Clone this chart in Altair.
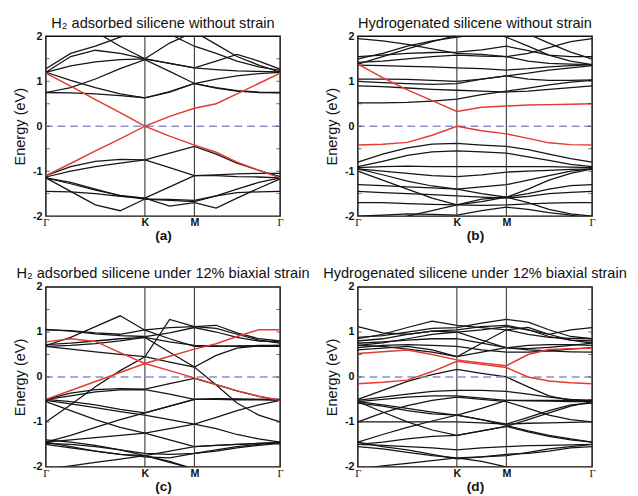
import altair as alt
import pandas as pd

# k-path positions (Γ -> K -> M -> Γ), band energies sampled at these points
K_POINTS = [0.0, 0.25, 0.5, 0.75, 1.0, 1.25, 1.5, 1.72, 1.93, 2.15, 2.366]
TICK_POS = [0.0, 1.0, 1.5, 2.366]
TICK_LABELS = ["Γ", "K", "M", "Γ"]
SYM_LINES = [1.0, 1.5]
Y_TICKS = [-2, -1, 0, 1, 2]
MINOR_Y = [-1.5, -1.0, -0.5, 0.0, 0.5, 1.0, 1.5]

TITLES = ["H₂ adsorbed silicene without strain", "Hydrogenated silicene without strain",
          "H₂ adsorbed silicene under 12% biaxial strain", "Hydrogenated silicene under 12% biaxial strain"]
LABELS = ["(a)", "(b)", "(c)", "(d)"]

A_RED = [
    [1.18, 0.89, 0.59, 0.30, 0.00, 0.22, 0.40, 0.50, 0.72, 0.95, 1.18],
    [-1.10, -0.83, -0.55, -0.28, 0.00, -0.22, -0.42, -0.58, -0.80, -0.98, -1.15],
]
A_BLACK = [
    [0.75, 0.74, 0.72, 0.68, 0.63, 0.77, 0.95, 0.85, 0.78, 0.75, 0.74],
    [1.20, 1.02, 0.86, 0.72, 0.63, 0.76, 0.95, 1.05, 1.12, 1.17, 1.20],
    [0.75, 0.86, 1.05, 1.28, 1.48, 1.22, 0.95, 0.86, 0.79, 0.76, 0.75],
    [1.20, 1.34, 1.43, 1.48, 1.50, 1.40, 1.30, 1.26, 1.23, 1.22, 1.21],
    [1.20, 1.55, 1.69, 1.62, 1.50, 1.40, 1.30, 1.45, 1.60, 1.45, 1.27],
    [1.28, 1.62, 1.78, 1.98, 2.20, 2.30, 2.30, 2.30, 2.30, 2.30, 2.30],
    [2.30, 2.30, 2.10, 1.78, 1.50, 1.85, 2.10, 1.82, 1.55, 1.36, 1.20],
    [2.30, 2.30, 2.30, 2.30, 2.30, 2.05, 1.78, 1.62, 1.45, 1.32, 1.24],
    [-1.10, -0.90, -0.78, -0.74, -0.75, -0.92, -1.10, -1.08, -1.06, -1.05, -1.05],
    [-1.13, -1.00, -0.90, -0.82, -0.75, -0.60, -0.45, -0.62, -0.82, -0.98, -1.12],
    [-1.15, -1.28, -1.42, -1.54, -1.60, -1.35, -1.10, -1.10, -1.12, -1.13, -1.15],
    [-1.15, -1.25, -1.40, -1.55, -1.62, -1.65, -1.68, -1.55, -1.40, -1.25, -1.15],
    [-1.45, -1.46, -1.50, -1.56, -1.60, -1.78, -1.70, -1.82, -1.60, -1.38, -1.17],
    [-1.15, -1.45, -1.75, -1.88, -1.62, -1.63, -1.65, -1.55, -1.48, -1.46, -1.45],
]

B_RED = [
    [1.38, 1.08, 0.81, 0.57, 0.33, 0.42, 0.45, 0.47, 0.48, 0.49, 0.50],
    [-0.42, -0.40, -0.36, -0.20, 0.00, -0.10, -0.17, -0.27, -0.37, -0.41, -0.42],
]
B_BLACK = [
    [0.52, 0.52, 0.53, 0.56, 0.60, 0.70, 0.78, 0.85, 0.92, 0.98, 1.02],
    [0.90, 0.88, 0.85, 0.82, 0.80, 0.78, 0.76, 0.78, 0.82, 0.86, 0.90],
    [1.05, 1.05, 1.04, 1.02, 1.00, 1.05, 1.12, 1.05, 1.02, 1.02, 1.03],
    [1.00, 0.97, 0.95, 0.93, 0.95, 1.05, 1.12, 1.18, 1.25, 1.30, 1.35],
    [1.36, 1.35, 1.33, 1.32, 1.30, 1.28, 1.25, 1.28, 1.32, 1.35, 1.37],
    [1.42, 1.45, 1.50, 1.55, 1.58, 1.56, 1.55, 1.45, 1.40, 1.38, 1.37],
    [1.50, 1.62, 1.78, 1.90, 1.98, 2.05, 2.10, 2.05, 1.85, 1.65, 1.50],
    [1.55, 1.58, 1.62, 1.64, 1.65, 1.70, 1.78, 1.68, 1.58, 1.55, 1.55],
    [1.38, 1.55, 1.72, 1.88, 2.02, 2.20, 2.30, 2.30, 2.30, 2.30, 2.30],
    [2.30, 2.30, 2.30, 2.30, 2.30, 2.15, 1.98, 1.78, 1.58, 1.45, 1.37],
    [1.95, 1.90, 1.82, 1.72, 1.62, 1.60, 1.55, 1.62, 1.75, 1.88, 1.95],
    [-0.80, -0.62, -0.48, -0.40, -0.38, -0.42, -0.45, -0.52, -0.62, -0.72, -0.80],
    [-0.90, -0.78, -0.65, -0.57, -0.55, -0.57, -0.60, -0.68, -0.76, -0.85, -0.90],
    [-0.92, -0.90, -0.89, -0.90, -0.90, -0.90, -0.90, -0.90, -0.90, -0.91, -0.92],
    [-0.95, -1.00, -1.05, -1.10, -1.12, -1.08, -1.02, -1.00, -0.98, -0.96, -0.95],
    [-0.95, -1.08, -1.22, -1.33, -1.40, -1.50, -1.58, -1.40, -1.20, -1.05, -0.95],
    [-1.00, -1.20, -1.40, -1.60, -1.75, -1.68, -1.58, -1.50, -1.40, -1.32, -1.30],
    [-1.30, -1.32, -1.35, -1.37, -1.40, -1.35, -1.30, -1.20, -1.10, -1.00, -0.95],
    [-1.45, -1.48, -1.50, -1.52, -1.55, -1.58, -1.60, -1.56, -1.50, -1.47, -1.45],
    [-1.70, -1.70, -1.72, -1.74, -1.75, -1.76, -1.75, -1.73, -1.71, -1.70, -1.70],
    [-2.20, -2.10, -2.00, -1.88, -1.75, -1.62, -1.58, -1.70, -1.85, -1.95, -2.00],
    [-2.00, -1.98, -1.95, -1.96, -1.98, -1.88, -1.80, -1.85, -1.92, -1.98, -2.05],
]

C_RED = [
    [0.78, 0.85, 0.79, 0.54, 0.30, 0.14, -0.02, -0.17, -0.31, -0.43, -0.52],
    [-0.50, -0.30, -0.10, 0.10, 0.30, 0.46, 0.62, 0.74, 0.90, 1.05, 1.05],
]
C_BLACK = [
    [0.70, 0.88, 1.12, 1.36, 1.04, 0.85, 0.68, 0.68, 0.69, 0.70, 0.70],
    [-1.00, -0.62, -0.22, 0.14, 0.45, 1.28, 1.12, 1.15, 0.98, 0.85, 0.80],
    [1.05, 1.03, 0.98, 0.95, 1.05, 1.10, 1.12, 1.08, 0.95, 0.82, 0.75],
    [1.06, 1.02, 0.96, 0.92, 0.90, 0.98, 1.10, 1.00, 0.88, 0.80, 0.78],
    [0.72, 0.75, 0.80, 0.85, 0.88, 0.55, 0.22, 0.48, 0.64, 0.69, 0.70],
    [0.68, 0.62, 0.56, 0.50, 0.45, 0.33, 0.22, -0.18, -0.58, -0.85, -1.00],
    [0.68, 0.70, 0.74, 0.80, 0.88, 0.78, 0.70, 0.69, 0.68, 0.68, 0.68],
    [-0.50, -0.36, -0.28, -0.26, -0.27, -0.15, -0.03, -0.17, -0.31, -0.43, -0.52],
    [-0.50, -0.55, -0.62, -0.72, -0.80, -0.65, -0.50, -0.50, -0.50, -0.50, -0.50],
    [-0.52, -0.60, -0.68, -0.77, -0.85, -0.95, -1.05, -0.90, -0.75, -0.62, -0.52],
    [-0.55, -0.75, -0.95, -1.12, -1.25, -1.15, -1.05, -1.15, -1.28, -1.38, -1.45],
    [-1.45, -1.30, -1.12, -0.95, -0.80, -0.65, -0.50, -0.48, -0.49, -0.50, -0.50],
    [-0.50, -0.42, -0.33, -0.29, -0.28, -0.38, -0.50, -0.50, -0.51, -0.51, -0.52],
    [-1.45, -1.40, -1.35, -1.30, -1.25, -1.40, -1.55, -1.52, -1.50, -1.48, -1.45],
    [-1.50, -1.58, -1.65, -1.72, -1.75, -1.65, -1.55, -1.52, -1.50, -1.48, -1.47],
    [-1.45, -1.55, -1.65, -1.72, -1.78, -1.80, -1.70, -1.62, -1.55, -1.50, -1.45],
    [-2.05, -1.98, -1.90, -1.83, -1.75, -1.88, -2.05, -2.15, -2.20, -2.25, -2.30],
    [-1.40, -1.45, -1.52, -1.62, -1.75, -1.90, -2.05, -2.15, -2.20, -2.25, -2.30],
    [-1.48, -1.50, -1.55, -1.62, -1.70, -1.72, -1.70, -1.65, -1.58, -1.52, -1.48],
]

D_RED = [
    [0.52, 0.56, 0.60, 0.50, 0.38, 0.31, 0.25, 0.50, 0.61, 0.63, 0.64],
    [-0.15, -0.12, -0.07, 0.12, 0.35, 0.28, 0.21, 0.00, -0.09, -0.13, -0.15],
]
D_BLACK = [
    [1.12, 0.98, 0.95, 1.02, 1.00, 1.05, 1.12, 1.05, 0.95, 1.05, 1.10],
    [0.85, 0.95, 1.10, 1.24, 1.15, 1.10, 1.05, 0.95, 0.88, 0.86, 0.85],
    [0.88, 0.92, 1.00, 1.08, 1.10, 1.20, 1.28, 1.22, 1.05, 0.90, 0.85],
    [0.80, 0.85, 0.95, 1.02, 1.05, 1.12, 1.15, 1.05, 0.90, 0.82, 0.80],
    [0.75, 0.78, 0.82, 0.85, 0.85, 0.75, 0.65, 0.63, 0.66, 0.70, 0.75],
    [0.70, 0.68, 0.62, 0.55, 0.45, 0.55, 0.65, 0.70, 0.72, 0.72, 0.70],
    [0.65, 0.70, 0.72, 0.70, 0.68, 0.60, 0.55, 0.55, 0.58, 0.62, 0.65],
    [0.60, 0.64, 0.68, 0.60, 0.45, 0.75, 1.05, 1.10, 0.95, 0.82, 0.75],
    [0.70, 0.76, 0.85, 0.95, 1.00, 0.82, 0.65, 0.60, 0.58, 0.56, 0.55],
    [-0.50, -0.30, -0.10, 0.05, 0.17, 0.08, 0.00, -0.22, -0.42, -0.52, -0.55],
    [-0.52, -0.45, -0.38, -0.32, -0.30, -0.30, -0.32, -0.38, -0.45, -0.50, -0.52],
    [-0.55, -0.50, -0.45, -0.42, -0.42, -0.47, -0.52, -0.52, -0.52, -0.52, -0.52],
    [-0.55, -0.62, -0.70, -0.78, -0.85, -0.70, -0.52, -0.53, -0.54, -0.55, -0.55],
    [-0.58, -0.65, -0.75, -0.82, -0.85, -0.95, -1.05, -0.90, -0.75, -0.62, -0.58],
    [-1.00, -0.80, -0.64, -0.52, -0.45, -0.50, -0.55, -0.70, -0.85, -0.95, -1.00],
    [-1.00, -1.00, -1.00, -1.00, -1.00, -1.02, -1.05, -1.03, -1.02, -1.01, -1.00],
    [-1.45, -1.28, -1.12, -0.98, -0.85, -0.95, -1.08, -1.20, -1.30, -1.38, -1.45],
    [-1.50, -1.45, -1.38, -1.32, -1.30, -1.20, -1.10, -0.95, -0.80, -0.65, -0.55],
    [-0.55, -0.78, -1.00, -1.18, -1.30, -1.20, -1.10, -1.22, -1.32, -1.40, -1.45],
    [-1.55, -1.60, -1.68, -1.75, -1.80, -1.78, -1.75, -1.68, -1.60, -1.55, -1.50],
    [-1.45, -1.55, -1.62, -1.72, -1.82, -1.78, -1.72, -1.70, -1.65, -1.58, -1.55],
    [-1.50, -1.52, -1.55, -1.58, -1.62, -1.58, -1.55, -1.53, -1.52, -1.51, -1.50],
    [-2.05, -1.98, -1.92, -1.86, -1.80, -1.88, -2.00, -2.10, -2.20, -2.25, -2.30],
]

PANELS = [(A_BLACK, A_RED), (B_BLACK, B_RED), (C_BLACK, C_RED), (D_BLACK, D_RED)]

FONT = "Liberation Sans"
W, H = 241, 185


def bands_df(bands):
    rows = []
    for i, band in enumerate(bands):
        for k, e in zip(K_POINTS, band):
            rows.append({"band": i, "k": k, "E": e})
    return pd.DataFrame(rows)


def minor_df():
    rows = []
    for edge in (K_POINTS[0], K_POINTS[-1]):
        for e in MINOR_Y:
            rows.append({"k": edge, "E": e})
    return pd.DataFrame(rows)


label_expr = ("datum.value < 0.5 || datum.value > 2 ? '" + TICK_LABELS[0] + "' : "
              "(datum.value < 1.2 ? '" + TICK_LABELS[1] + "' : '" + TICK_LABELS[2] + "')")
gamma_test = "datum.value < 0.5 || datum.value > 2"


def make_panel(black, red, title, label):
    x_enc = alt.X("k:Q", scale=alt.Scale(domain=[0, K_POINTS[-1]], nice=False, zero=False),
                  axis=alt.Axis(values=TICK_POS, labelExpr=label_expr, title=label,
                                labelFlush=False, labelOverlap=False, grid=False, ticks=False,
                                domain=False,
                                labelFont={"condition": {"test": gamma_test, "value": "Liberation Serif"},
                                           "value": FONT},
                                labelFontWeight={"condition": {"test": gamma_test, "value": "normal"},
                                                 "value": "bold"},
                                labelFontSize=11, labelColor="#111", labelPadding=1,
                                titleFont=FONT, titleFontSize=14, titleFontWeight="bold",
                                titleColor="#111", titlePadding=1))
    y_enc = alt.Y("E:Q", scale=alt.Scale(domain=[-2, 2], nice=False),
                  axis=alt.Axis(values=Y_TICKS, labelExpr="'' + datum.value", title="Energy (eV)",
                                grid=False, ticks=False, domain=False, labelFont=FONT,
                                labelFontSize=11, labelFontWeight="bold", labelColor="#111",
                                labelPadding=4, titleFont=FONT, titleFontSize=15,
                                titleFontWeight="normal", titleColor="#111", titlePadding=5))
    black_l = alt.Chart(bands_df(black)).mark_line(color="#151515", strokeWidth=1.3, clip=True).encode(
        x=x_enc, y=y_enc, detail="band:N")
    red_l = alt.Chart(bands_df(red)).mark_line(color="#e53a30", strokeWidth=1.5, clip=True).encode(
        x=x_enc, y=y_enc, detail="band:N")
    zero = alt.Chart(pd.DataFrame({"E": [0.0]})).mark_rule(
        color="#8d8dcc", strokeWidth=1.5, strokeDash=[8, 5]).encode(y=y_enc)
    vlines = alt.Chart(pd.DataFrame({"k": SYM_LINES})).mark_rule(
        color="#333", strokeWidth=1.1).encode(x=x_enc)
    minor = alt.Chart(minor_df()).mark_tick(
        orient="horizontal", size=8, thickness=1, color="#333", clip=True).encode(x=x_enc, y=y_enc)
    return alt.layer(black_l, vlines, zero, red_l, minor).properties(
        width=W, height=H,
        title=alt.TitleParams(title, font=FONT, fontSize=15, fontWeight="normal",
                              color="#111", offset=0))


panels = [make_panel(b, r, t, l) for (b, r), t, l in zip(PANELS, TITLES, LABELS)]

chart = alt.concat(*panels, columns=2, spacing={"row": 73, "column": 80}, bounds="flush").configure_view(
    stroke="#111", strokeWidth=1.5
).properties(padding={"left": 4, "top": 0, "right": 2, "bottom": 0})

chart.save("out.html", embed_options={"renderer": "svg", "actions": False})
